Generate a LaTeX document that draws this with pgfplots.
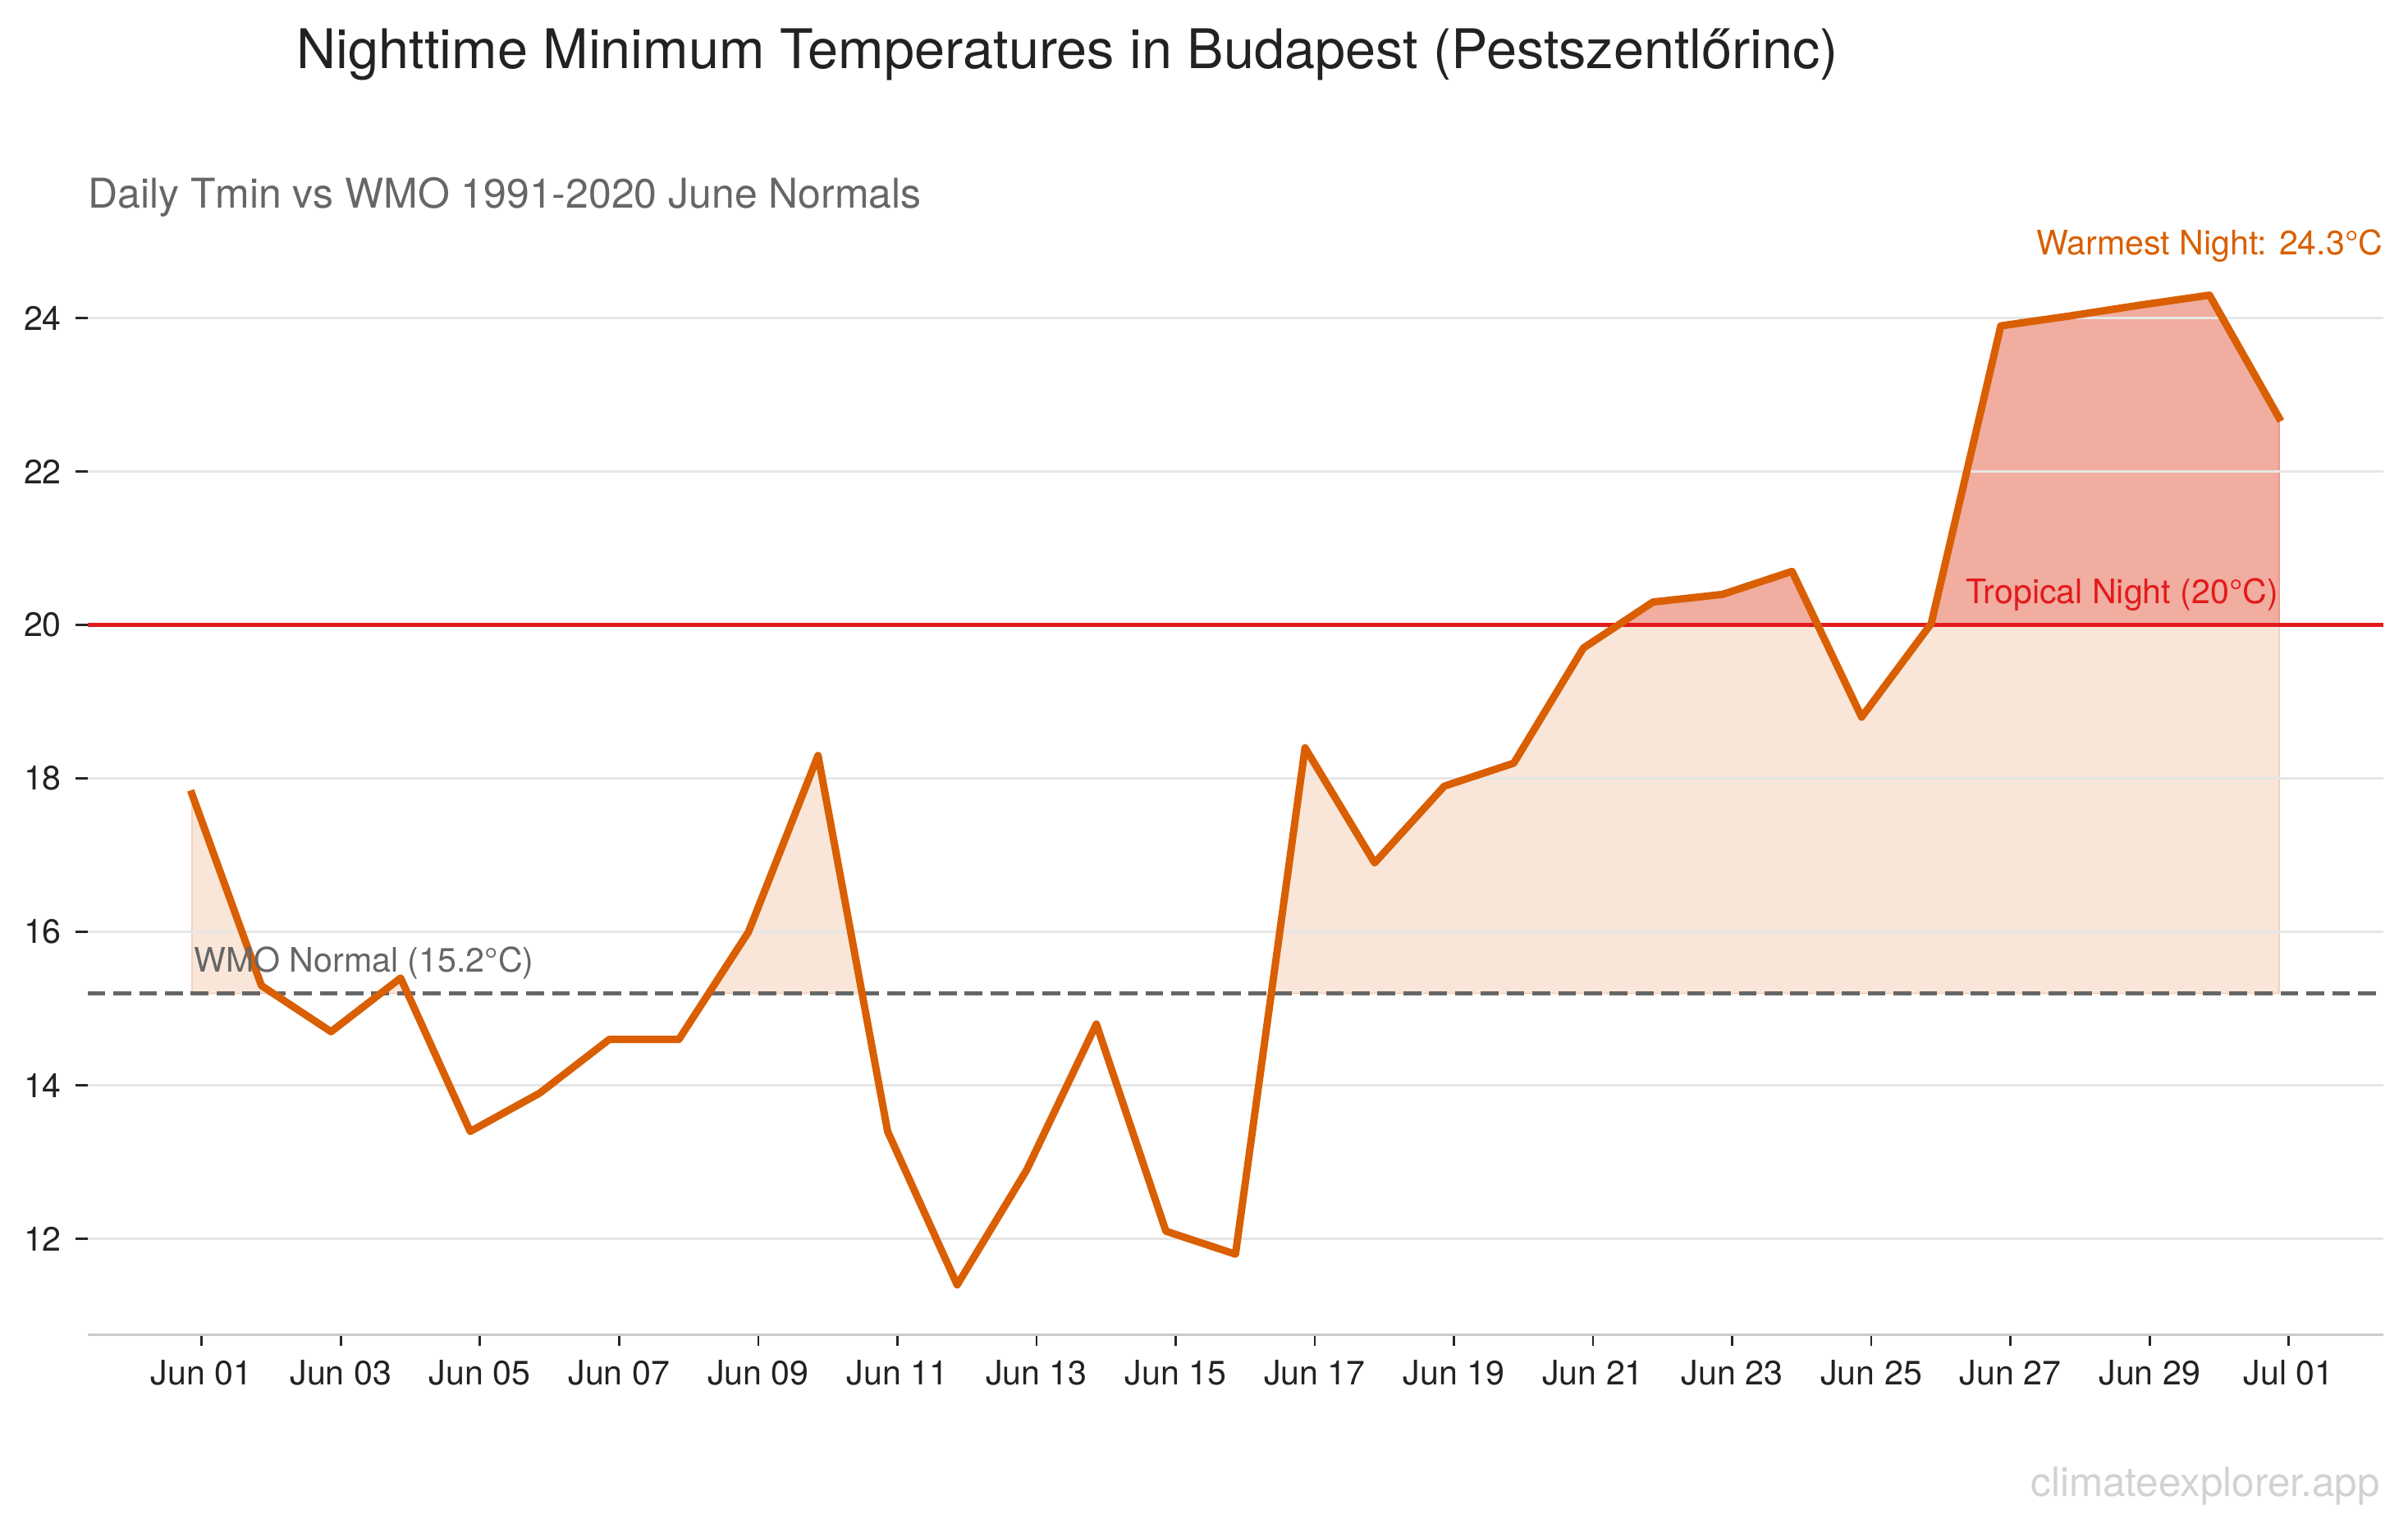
\documentclass[border=0pt]{standalone}
\usepackage{pgfplots}
\pgfplotsset{compat=1.18}
\usepackage{pgfplotstable}
\usepgfplotslibrary{fillbetween}
\usepackage{fontspec}
\setmainfont{TeX Gyre Heros}

\definecolor{lineorange}{HTML}{D95F02}
\definecolor{tropred}{HTML}{E31A1C}
\definecolor{peach}{HTML}{F9E6D8}
\definecolor{peachedge}{HTML}{F4D2BC}
\definecolor{salmon}{HTML}{F0ADA0}
\definecolor{salmonedge}{HTML}{EB9A8C}
\definecolor{gridgray}{HTML}{E6E6E6}
\definecolor{normgray}{HTML}{666666}
\definecolor{spinegray}{HTML}{CCCCCC}
\definecolor{titlegray}{HTML}{222222}
\definecolor{wmgray}{HTML}{D2D2D2}

% daily Tmin, Jun 1 .. Jul 1 (x = day index, points sit slightly before midnight)
\pgfplotstableread{
x y
-0.14 17.8
0.86 15.3
1.86 14.7
2.86 15.4
3.86 13.4
4.86 13.9
5.86 14.6
6.86 14.6
7.86 16.0
8.86 18.3
9.86 13.4
10.86 11.4
11.86 12.9
12.86 14.8
13.86 12.1
14.86 11.8
15.86 18.4
16.86 16.9
17.86 17.9
18.86 18.2
19.86 19.7
20.86 20.3
21.86 20.4
22.86 20.7
23.86 18.8
24.86 20.02
25.86 23.9
26.86 24.03
27.86 24.17
28.86 24.3
29.86 22.7
}\tmin

\begin{document}
\begin{tikzpicture}
\begin{axis}[
  scale only axis, width=747.5pt, height=354.5pt,
  xmin=-1.64, xmax=31.36, ymin=10.755, ymax=24.945,
  axis x line*=bottom, axis y line*=left,
  xtick pos=bottom, ytick pos=left,
  x axis line style={draw=spinegray, line width=0.8pt, -},
  y axis line style={draw=none},
  tick align=outside,
  major tick length=3.8pt,
  tick style={draw=black!85, line width=0.7pt},
  xtick={0,2,...,30},
  xticklabels={Jun 01,Jun 03,Jun 05,Jun 07,Jun 09,Jun 11,Jun 13,Jun 15,Jun 17,Jun 19,Jun 21,Jun 23,Jun 25,Jun 27,Jun 29,Jul 01},
  ytick={12,14,...,24},
  /pgf/number format/assume math mode=true,
  tick label style={font=\fontsize{11}{13}\selectfont, text=titlegray},
  xticklabel style={inner sep=0pt, anchor=north, yshift=-4.5pt},
  yticklabel style={inner sep=0pt, anchor=east, xshift=-4.5pt},
]
% helper paths
\addplot[draw=none, name path=T, forget plot] table {\tmin};
\addplot[draw=none, name path=N, forget plot] coordinates {(-0.14,15.2) (29.86,15.2)};
\addplot[draw=none, name path=R, forget plot] coordinates {(-0.14,20) (29.86,20)};

% above normal: even segments (series starts above 15.2)
\addplot[draw=none, fill=none] fill between[of=T and N, split,
  every even segment/.style={fill=peach, draw=peachedge, line width=0.5pt}];
% above tropical threshold: odd segments (series starts below 20)
\addplot[draw=none, fill=none] fill between[of=T and R, split,
  every odd segment/.style={fill=salmon, draw=salmonedge, line width=0.5pt}];

% grid on top of the fills
\pgfplotsinvokeforeach{12,14,...,24}{
  \addplot[gridgray, line width=0.8pt, forget plot] coordinates {(-1.64,#1) (31.36,#1)};
}

\addplot[normgray, line width=1.5pt, dash pattern=on 5.8pt off 2.6pt] coordinates {(-1.64,15.2) (31.36,15.2)};
\addplot[tropred, line width=1.4pt] coordinates {(-1.64,20) (31.36,20)};

\addplot[lineorange, line width=2.4pt, line join=round, line cap=rect] table {\tmin};

\node[anchor=base east, inner sep=0pt, text=tropred, font=\fontsize{11}{13}\selectfont] at (axis cs:29.86,20.28) {Tropical Night (20°C)};
\node[anchor=base west, inner sep=0pt, text=normgray, font=\fontsize{11}{13}\selectfont] at (axis cs:-0.12,15.48) {WMO Normal (15.2°C)};
\end{axis}

\node[anchor=base west, inner sep=0pt, text=titlegray, font=\fontsize{17.8}{21}\selectfont] at (68pt,412.1pt) {Nighttime Minimum Temperatures in Budapest (Pestszentlőrinc)};
\node[anchor=base west, inner sep=0pt, text=normgray, font=\fontsize{13.35}{16}\selectfont] at (0pt,366.7pt) {Daily Tmin vs WMO 1991-2020 June Normals};
\node[anchor=base east, inner sep=0pt, text=lineorange, font=\fontsize{11}{13}\selectfont] at (747.5pt,351.5pt) {Warmest Night: 24.3°C};
\node[anchor=base east, inner sep=0pt, text=wmgray, font=\fontsize{13.2}{16}\selectfont] at (746.5pt,-52.75pt) {climateexplorer.app};

\pgfresetboundingbox
\path[use as bounding box] (-28.5pt,-62.8pt) rectangle (755.5pt,434.5pt);
\end{tikzpicture}
\end{document}
